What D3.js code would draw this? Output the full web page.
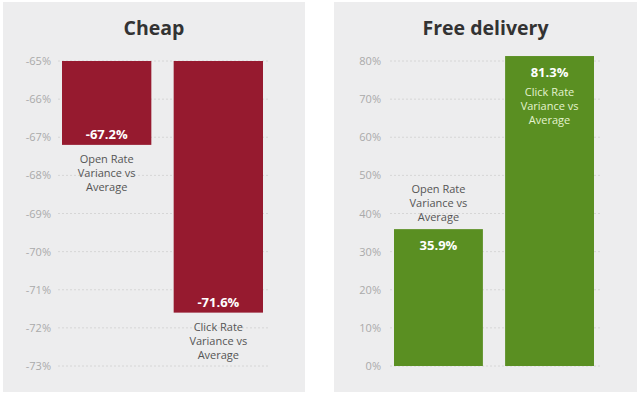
<!DOCTYPE html>
<html><head><meta charset="utf-8">
<script src="https://cdn.jsdelivr.net/npm/d3@7"></script>
<style>body{margin:0;background:#fff;}svg{display:block;font-family:"Open Sans",sans-serif;}</style>
</head><body><svg id="c" width="640" height="395"></svg>
<script>
const panelTitles = ["Cheap", "Free delivery"];
const categories = ["Open Rate Variance vs Average", "Click Rate Variance vs Average"];
const cheapValues = [-67.2, -71.6];
const freeValues = [35.9, 81.3];
const cheapTicks = [-65, -66, -67, -68, -69, -70, -71, -72, -73];
const freeTicks = [0, 10, 20, 30, 40, 50, 60, 70, 80];

const svg = d3.select("#c");
const catLines = ["Open Rate|Variance vs|Average", "Click Rate|Variance vs|Average"];
const fmtPct = d => String(d) + "%";
const fmtVal = d => d.toFixed(1) + "%";

function panel(cfg) {
  const g = svg.append("g");
  g.append("rect").attr("x", cfg.px).attr("y", 2).attr("width", cfg.pw).attr("height", 390).attr("fill", "#ededee");
  g.append("text").attr("x", cfg.px + cfg.pw / 2 + cfg.tdx).attr("y", 35).attr("text-anchor", "middle")
    .attr("font-size", 19.5).attr("font-weight", 700).attr("fill", "#333").text(cfg.title);
  const y = d3.scaleLinear().domain(cfg.domain).range([61, 366]);
  const x = d3.scaleBand().domain(categories).range([cfg.x0, cfg.x1]).paddingInner(0.2).paddingOuter(0);
  g.append("g").selectAll("line").data(cfg.ticks).join("line")
    .attr("x1", cfg.gx0).attr("x2", cfg.gx1).attr("y1", d => y(d)).attr("y2", d => y(d))
    .attr("stroke", "#d6d6d6").attr("stroke-dasharray", "2,2");
  const ax = d3.axisLeft(y).tickValues(cfg.ticks).tickSize(0).tickPadding(0).tickFormat(fmtPct);
  const axg = g.append("g").attr("transform", `translate(${cfg.ax},0)`).call(ax);
  axg.select(".domain").remove();
  axg.selectAll("text").attr("font-size", 11).attr("fill", "#aaa").attr("font-family", "Open Sans, sans-serif");
  const base = cfg.base;
  g.append("g").selectAll("rect").data(cfg.values).join("rect")
    .attr("x", (d, i) => x(categories[i])).attr("width", x.bandwidth())
    .attr("y", d => Math.min(y(d), y(base))).attr("height", d => Math.abs(y(d) - y(base)))
    .attr("fill", cfg.color);
  cfg.values.forEach((v, i) => {
    const cx = x(categories[i]) + x.bandwidth() / 2;
    const end = y(v);
    const neg = cfg.neg;
    g.append("text").attr("x", cx).attr("y", neg ? end - 6 : end + 21).attr("text-anchor", "middle")
      .attr("font-size", 13).attr("font-weight", 700).attr("fill", "#fff").text(fmtVal(v));
    const inside = cfg.inside[i];
    const lines = catLines[i].split("|");
    let ly0;
    if (neg) ly0 = end + 18;
    else if (inside) ly0 = end + 40;
    else ly0 = end - 36;
    lines.forEach((t, k) => {
      g.append("text").attr("x", cx).attr("y", ly0 + k * 14).attr("text-anchor", "middle")
        .attr("font-size", 11).attr("fill", inside ? "#e4f3cf" : "#555").text(t);
    });
  });
}

panel({title: panelTitles[0], px: 3, pw: 302, tdx: 0, domain: [-65, -73], ticks: cheapTicks, values: cheapValues,
  base: -65, x0: 62, x1: 263, gx0: 58, gx1: 268, ax: 51, color: "#961a2f", neg: true, inside: [false, false]});
panel({title: panelTitles[1], px: 334, pw: 303, tdx: 0, domain: [80, 0], ticks: freeTicks, values: freeValues,
  base: 0, x0: 394, x1: 594, gx0: 390, gx1: 600, ax: 381, color: "#5a8f22", neg: false, inside: [false, true]});
</script></body></html>
